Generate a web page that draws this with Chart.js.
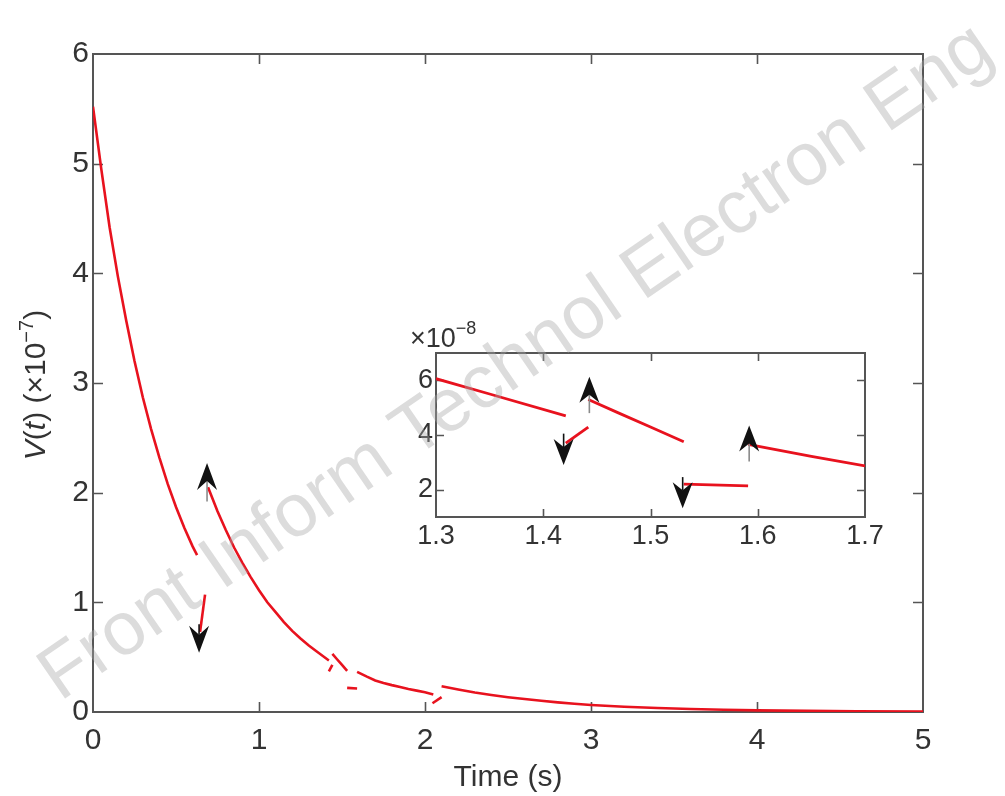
<!DOCTYPE html>
<html>
<head>
<meta charset="utf-8">
<script src="https://cdn.jsdelivr.net/npm/chart.js@4.4.1/dist/chart.umd.min.js"></script>
<style>
  html, body { margin: 0; padding: 0; background: #ffffff; }
  #wrap { position: relative; width: 1005px; height: 796px; overflow: hidden; background: #fff; }
  #wrap canvas { position: absolute; left: 0; top: 0; }
  #wm { position: absolute; left: 0; top: 0; pointer-events: none; }
</style>
</head>
<body>
<div id="wrap">
  <canvas id="main" width="1005" height="796"></canvas>
  <canvas id="inset" width="1005" height="796"></canvas>
  <svg id="wm" width="1005" height="796">
    <text x="60" y="702" transform="rotate(-34.5 60 702)" font-family="Liberation Sans, Arial, sans-serif" font-size="75" fill="#a8a8a8" fill-opacity="0.4">Front Inform Technol Electron Eng</text>
  </svg>
</div>
<script>
// ---------- data (V in units of 1e-7) ----------
const seg1T = [0, 0.05, 0.1, 0.15, 0.2, 0.25, 0.3, 0.35, 0.4, 0.45, 0.5, 0.55, 0.6, 0.627];
const seg1V = [5.52, 4.95, 4.42, 3.97, 3.57, 3.20, 2.87, 2.58, 2.32, 2.08, 1.87, 1.68, 1.51, 1.43];
const seg2T = [0.675, 0.645];
const seg2V = [1.07, 0.73];
const seg3T = [0.693, 0.75, 0.8, 0.85, 0.9, 0.95, 1.0, 1.05, 1.1, 1.15, 1.2, 1.25, 1.3, 1.35, 1.421];
const seg3V = [2.05, 1.83, 1.66, 1.50, 1.36, 1.23, 1.11, 1.00, 0.91, 0.82, 0.74, 0.67, 0.606, 0.55, 0.47];
const seg4T = [1.421, 1.442];
const seg4V = [0.370, 0.429];
const seg5T = [1.442, 1.47, 1.5, 1.531];
const seg5V = [0.530, 0.481, 0.429, 0.375];
const seg6T = [1.531, 1.591];
const seg6V = [0.220, 0.214];
const seg7T = [1.591, 1.65, 1.7, 1.75, 1.8, 1.85, 1.9, 1.95, 2.0, 2.05];
const seg7V = [0.366, 0.322, 0.287, 0.265, 0.245, 0.227, 0.210, 0.195, 0.180, 0.160];
const seg8T = [2.045, 2.10];
const seg8V = [0.08, 0.135];
const seg9T = [2.10, 2.2, 2.3, 2.4, 2.5, 2.6, 2.7, 2.8, 2.9, 3.0, 3.2, 3.4, 3.6, 3.8, 4.0, 4.3, 4.6, 5.0];
const seg9V = [0.235, 0.205, 0.178, 0.155, 0.135, 0.118, 0.102, 0.088, 0.075, 0.064, 0.048, 0.036, 0.027, 0.020, 0.015, 0.010, 0.007, 0.005];

// arrows: position, tail value, tip value
const mainArrowT = [0.639, 0.687];
const mainArrowFrom = [0.80, 1.92];
const mainArrowTo = [0.54, 2.27];
const insetArrowT = [1.419, 1.443, 1.530, 1.592];
const insetArrowFrom = [4.05, 4.8, 2.46, 3.03];   // units of 1e-8
const insetArrowTo = [2.9, 6.13, 1.32, 4.35];

// ticks
const mainXTicks = [0, 1, 2, 3, 4, 5];
const mainYTicks = [0, 1, 2, 3, 4, 5, 6];
const insetXTicks = [1.3, 1.4, 1.5, 1.6, 1.7];
const insetYTicks = [2, 4, 6];
const insetScale = 10; // 1e-7 -> 1e-8

const segments = [[seg1T, seg1V], [seg2T, seg2V], [seg3T, seg3V], [seg4T, seg4V], [seg5T, seg5V],
                  [seg6T, seg6V], [seg7T, seg7V], [seg8T, seg8V], [seg9T, seg9V]];

// ---------- styles ----------
const FAMILY = "'Liberation Sans', Arial, Helvetica, sans-serif";
const RED = 'rgb(232,18,30)';
const TXT = '#333333';
const FRAME = '#555555';

function makeDatasets(factor, width) {
  return segments.map(([t, v]) => ({
    data: t.map((x, i) => ({ x: x, y: v[i] * factor })),
    borderColor: RED, borderWidth: width, pointRadius: 0, fill: false,
    tension: 0, showLine: true
  }));
}

function drawRuns(ctx, runs, x, y, rot, align, color) {
  ctx.save();
  ctx.translate(x, y);
  ctx.rotate(rot);
  ctx.fillStyle = color;
  ctx.textBaseline = 'alphabetic';
  ctx.textAlign = 'left';
  let w = 0;
  runs.forEach(r => { ctx.font = r.font; r.w = ctx.measureText(r.t).width; w += r.w; });
  let cx = align === 'center' ? -w / 2 : 0;
  runs.forEach(r => { ctx.font = r.font; ctx.fillText(r.t, cx, r.dy || 0); cx += r.w; });
  ctx.restore();
}

const framePlugin = {
  id: 'frameTicks',
  beforeDatasetsDraw(chart, args, o) {
    const { ctx, chartArea: a, scales: { x, y } } = chart;
    ctx.save();
    if (o.fill) { ctx.fillStyle = '#ffffff'; ctx.fillRect(a.left, a.top, a.right - a.left, a.bottom - a.top); }
    ctx.strokeStyle = FRAME;
    ctx.lineWidth = o.width;
    ctx.strokeRect(a.left, a.top, a.right - a.left, a.bottom - a.top);
    ctx.beginPath();
    x.ticks.forEach(t => {
      const px = Math.round(x.getPixelForValue(t.value)) + 0.5;
      if (px <= a.left + 1 || px >= a.right - 1) return;
      ctx.moveTo(px, a.bottom); ctx.lineTo(px, a.bottom - o.len);
      ctx.moveTo(px, a.top); ctx.lineTo(px, a.top + o.len);
    });
    y.ticks.forEach(t => {
      const py = Math.round(y.getPixelForValue(t.value)) + 0.5;
      if (py <= a.top + 1 || py >= a.bottom - 1) return;
      ctx.moveTo(a.left, py); ctx.lineTo(a.left + o.len, py);
      ctx.moveTo(a.right, py); ctx.lineTo(a.right - o.len, py);
    });
    ctx.lineWidth = o.width * 0.8;
    ctx.stroke();
    ctx.restore();
  }
};

const arrowPlugin = {
  id: 'arrows',
  afterDatasetsDraw(chart, args, o) {
    const { ctx, scales: { x, y } } = chart;
    ctx.save();
    o.t.forEach((t, i) => {
      const px = x.getPixelForValue(t);
      const tail = y.getPixelForValue(o.from[i]);
      const tip = y.getPixelForValue(o.to[i]);
      const dir = tail > tip ? 1 : -1; // 1: pointing up
      const base = tip + dir * o.len;
      ctx.strokeStyle = dir === 1 ? '#8a8a8a' : '#111111';
      ctx.lineWidth = 1.6;
      ctx.beginPath(); ctx.moveTo(px, tail); ctx.lineTo(px, base - dir * o.notch); ctx.stroke();
      ctx.fillStyle = '#111111';
      ctx.beginPath();
      ctx.moveTo(px, tip);
      ctx.lineTo(px - o.half, base);
      ctx.lineTo(px, base - dir * o.notch);
      ctx.lineTo(px + o.half, base);
      ctx.closePath();
      ctx.fill();
    });
    ctx.restore();
  }
};

const mainLabelPlugin = {
  id: 'mainLabel',
  afterDraw(chart) {
    const { ctx, chartArea: a } = chart;
    const cy = (a.top + a.bottom) / 2 + 2;
    drawRuns(ctx, [
      { t: 'V', font: 'italic 30px ' + FAMILY },
      { t: '(', font: '30px ' + FAMILY },
      { t: 't', font: 'italic 30px ' + FAMILY },
      { t: ') (\u00d710', font: '30px ' + FAMILY },
      { t: '\u22127', font: '20px ' + FAMILY, dy: -12 },
      { t: ')', font: '30px ' + FAMILY }
    ], 45, cy, -Math.PI / 2, 'center', TXT);
  }
};

const insetLabelPlugin = {
  id: 'insetLabel',
  afterDraw(chart) {
    const { ctx, chartArea: a } = chart;
    drawRuns(ctx, [
      { t: '\u00d710', font: '27px ' + FAMILY },
      { t: '\u22128', font: '18px ' + FAMILY, dy: -13 }
    ], a.left - 26, a.top - 6, 0, 'left', TXT);
  }
};

function fixedTicks(arr) {
  return s => { s.ticks = arr.map(v => ({ value: v })); };
}

Chart.defaults.font.family = FAMILY;
Chart.defaults.animation = false;

new Chart(document.getElementById('main'), {
  type: 'line',
  data: { datasets: makeDatasets(1, 2.6) },
  options: {
    responsive: false, animation: false, events: [],
    layout: { padding: { left: 0, right: 82, top: 54, bottom: 0 } },
    plugins: {
      legend: { display: false }, tooltip: { enabled: false },
      frameTicks: { width: 2, len: 10, fill: false },
      arrows: { t: mainArrowT, from: mainArrowFrom, to: mainArrowTo, len: 27, half: 10, notch: 9 }
    },
    scales: {
      x: {
        type: 'linear', min: 0, max: 5,
        afterBuildTicks: fixedTicks(mainXTicks),
        afterFit: s => { s.height = 84; },
        grid: { display: false, drawTicks: false }, border: { display: false },
        ticks: { color: TXT, font: { size: 30 }, padding: 11, maxRotation: 0, autoSkip: false },
        title: { display: true, text: 'Time (s)', color: TXT, font: { size: 30 }, padding: { top: 0, bottom: 0 } }
      },
      y: {
        type: 'linear', min: 0, max: 6,
        afterBuildTicks: fixedTicks(mainYTicks),
        afterFit: s => { s.width = 93; },
        grid: { display: false, drawTicks: false }, border: { display: false },
        ticks: { color: TXT, font: { size: 30 }, padding: 4, autoSkip: false }
      }
    }
  },
  plugins: [framePlugin, arrowPlugin, mainLabelPlugin]
});

new Chart(document.getElementById('inset'), {
  type: 'line',
  data: { datasets: makeDatasets(insetScale, 2.8) },
  options: {
    responsive: false, animation: false, events: [],
    layout: { padding: { left: 386, right: 140, top: 353, bottom: 239 } },
    plugins: {
      legend: { display: false }, tooltip: { enabled: false },
      frameTicks: { width: 2, len: 8, fill: true },
      arrows: { t: insetArrowT, from: insetArrowFrom, to: insetArrowTo, len: 26, half: 10, notch: 8 }
    },
    scales: {
      x: {
        type: 'linear', min: 1.3, max: 1.7,
        afterBuildTicks: fixedTicks(insetXTicks),
        afterFit: s => { s.height = 40; },
        grid: { display: false, drawTicks: false }, border: { display: false },
        ticks: { color: TXT, font: { size: 27 }, padding: 3, maxRotation: 0, autoSkip: false,
                 callback: v => v.toFixed(1) }
      },
      y: {
        type: 'linear', min: 1, max: 7,
        afterBuildTicks: fixedTicks(insetYTicks),
        afterFit: s => { s.width = 50; },
        grid: { display: false, drawTicks: false }, border: { display: false },
        ticks: { color: TXT, font: { size: 27 }, padding: 3, autoSkip: false }
      }
    }
  },
  plugins: [framePlugin, arrowPlugin, insetLabelPlugin]
});
</script>
</body>
</html>
